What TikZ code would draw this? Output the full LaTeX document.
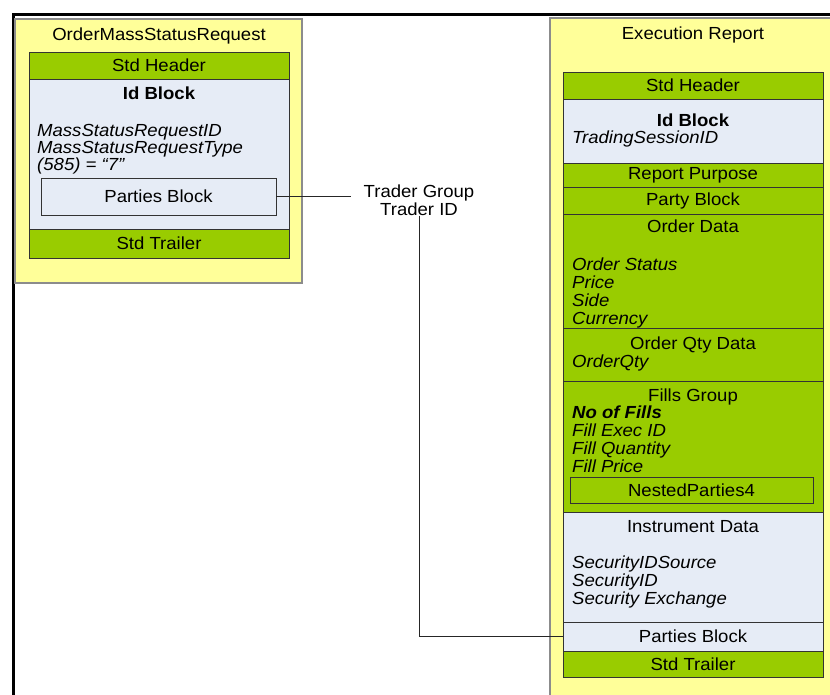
\documentclass[tikz,border=0pt]{standalone}
\usepackage{fontspec}
\setmainfont[FakeStretch=1.06]{Liberation Sans}
\definecolor{yelfill}{HTML}{FFFF99}
\definecolor{yelline}{HTML}{8C8C8C}
\definecolor{grnfill}{HTML}{99CC00}
\definecolor{blufill}{HTML}{E6ECF6}
\definecolor{boxline}{HTML}{333333}
\begin{document}
\begin{tikzpicture}[x=1pt,y=-1pt,
  yelbox/.style={fill=yelfill,draw=yelline,line width=1.6pt},
  cell/.style={draw=boxline,line width=0.9pt,inner sep=0pt,outer sep=0pt,anchor=north west,
    font=\fontsize{17.5}{18}\selectfont},
  gcell/.style={cell,fill=grnfill},
  bcell/.style={cell,fill=blufill},
  txt/.style={inner sep=0pt,anchor=base,font=\fontsize{17.5}{18}\selectfont},
  btxt/.style={txt,font=\fontsize{17.5}{18}\selectfont\bfseries},
  itxt/.style={txt,anchor=base west,font=\fontsize{17.5}{18}\selectfont\itshape},
  bitxt/.style={txt,anchor=base west,font=\fontsize{17.5}{18}\selectfont\bfseries\itshape},
  conn/.style={draw=black!85,line width=0.9pt}
]
\useasboundingbox (0,0) rectangle (830,695);
\fill[white] (0,0) rectangle (830,695);
% outer frame
\draw[line width=3pt] (13,720) -- (13,15) -- (850,15);

% ---------- left message ----------
\path[yelbox] (15,19) rectangle (302,283);
\node[txt] (ltitle) at (159,41) {OrderMassStatusRequest};
\node[gcell,minimum width=260pt,minimum height=27pt] (lsh) at (29,52) {Std Header};
\node[bcell,minimum width=260pt,minimum height=150pt] (lid) at (29,79) {};
\node[gcell,minimum width=260pt,minimum height=29pt] (lst) at (29,229) {Std Trailer};
\node[btxt] (lidt) at (159,100) {Id Block};
\node[itxt] (l1) at (37,137) {MassStatusRequestID};
\node[itxt] (l2) at (37,154) {MassStatusRequestType};
\node[itxt] (l3) at (37,171) {(585) = “7”};
\node[bcell,minimum width=235pt,minimum height=37pt] (lpb) at (41,178) {Parties Block};

% ---------- right message ----------
\path[yelbox] (550,18) rectangle (860,720);
\node[txt] (rtitle) at (693,40) {Execution Report};
\node[gcell,minimum width=260pt,minimum height=27pt] (rsh) at (563,72) {Std Header};
\node[bcell,minimum width=260pt,minimum height=64pt] (rid) at (563,99) {};
\node[btxt] (ridt) at (693,127) {Id Block};
\node[itxt] (rid1) at (572,144) {TradingSessionID};
\node[gcell,minimum width=260pt,minimum height=24pt] (rrp) at (563,163) {Report Purpose};
\node[gcell,minimum width=260pt,minimum height=27pt] (rpty) at (563,187) {Party Block};
\node[gcell,minimum width=260pt,minimum height=114pt] (rod) at (563,214) {};
\node[txt] (rodt) at (693,233) {Order Data};
\node[itxt] (rod1) at (572,270) {Order Status};
\node[itxt] (rod2) at (572,288) {Price};
\node[itxt] (rod3) at (572,306) {Side};
\node[itxt] (rod4) at (572,324) {Currency};
\node[gcell,minimum width=260pt,minimum height=53pt] (roq) at (563,328) {};
\node[txt] (roqt) at (693,349) {Order Qty Data};
\node[itxt] (roq1) at (572,367) {OrderQty};
\node[gcell,minimum width=260pt,minimum height=131pt] (rfg) at (563,381) {};
\node[txt] (rfgt) at (693,401) {Fills Group};
\node[bitxt] (rfg1) at (572,418) {No of Fills};
\node[itxt] (rfg2) at (572,436) {Fill Exec ID};
\node[itxt] (rfg3) at (572,454) {Fill Quantity};
\node[itxt] (rfg4) at (572,472) {Fill Price};
\node[gcell,minimum width=243pt,minimum height=26pt] (rnp) at (570,477) {NestedParties4};
\node[bcell,minimum width=260pt,minimum height=110pt] (rin) at (563,512) {};
\node[txt] (rint) at (693,532) {Instrument Data};
\node[itxt] (rin1) at (572,568) {SecurityIDSource};
\node[itxt] (rin2) at (572,586) {SecurityID};
\node[itxt] (rin3) at (572,604) {Security Exchange};
\node[bcell,minimum width=260pt,minimum height=29pt] (rpb) at (563,622) {Parties Block};
\node[gcell,minimum width=260pt,minimum height=26pt] (rst) at (563,651) {Std Trailer};

% ---------- connector ----------
\node[inner sep=0pt,align=center,font=\fontsize{17.5}{18}\selectfont] (tg) at (419,200) {Trader Group\\Trader ID};
\draw[conn,shorten >=12pt] (lpb.east) -- (lpb.east -| tg.west);
\draw[conn] (tg.south) |- (rpb.west);
\end{tikzpicture}
\end{document}
